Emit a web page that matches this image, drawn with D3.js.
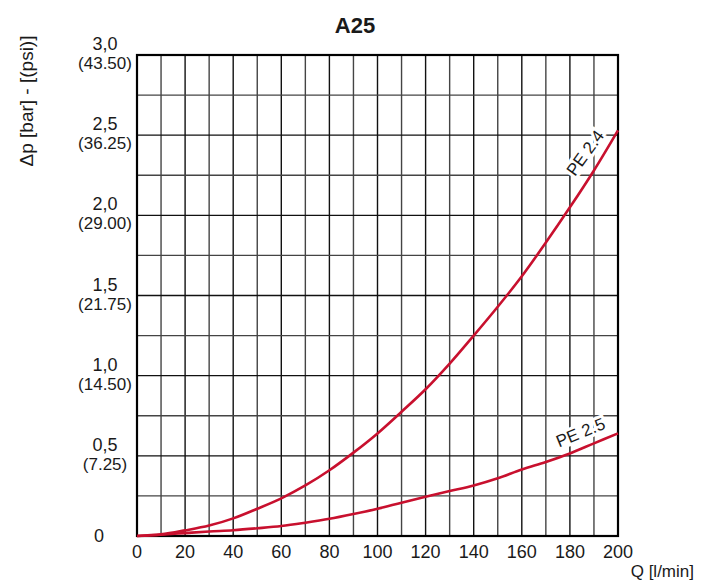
<!DOCTYPE html>
<html>
<head>
<meta charset="utf-8">
<script src="https://cdn.jsdelivr.net/npm/d3@7"></script>
<style>
  body { margin:0; background:#fff; }
  svg text { font-family:"Liberation Sans Narrow","Liberation Sans",Arial,sans-serif; fill:#1a1a1a; }
</style>
</head>
<body>
<div class="canvas"></div>
<script>
// flow in l/min, pressure drop in bar
var flow = [0,10,20,30,40,50,60,70,80,90,100,110,120,130,140,150,160,170,180,190,200];
var pe24 = [0,0.01,0.035,0.065,0.11,0.17,0.235,0.315,0.41,0.52,0.64,0.775,0.915,1.075,1.25,1.43,1.62,1.83,2.05,2.28,2.53];
var pe25 = [0,0.008,0.018,0.028,0.036,0.048,0.062,0.083,0.107,0.137,0.17,0.208,0.245,0.28,0.315,0.36,0.415,0.462,0.515,0.578,0.64];

var xTicks = [0,20,40,60,80,100,120,140,160,180,200];
var yTicks = [0,0.5,1.0,1.5,2.0,2.5,3.0];
var barLabels = ['0','0,5','1,0','1,5','2,0','2,5','3,0'];
var psiLabels = ['','(7.25)','(14.50)','(21.75)','(29.00)','(36.25)','(43.50)'];

var W = 713, H = 583;
var margin = {t:55,r:95,b:47,l:137};
var width = W - margin.l - margin.r,
    height = H - margin.t - margin.b;

var svg = d3.select('.canvas').append('svg')
    .attr('width',W)
    .attr('height',H);

var x = d3.scaleLinear().domain([0,200]).range([0,width]);
var y = d3.scaleLinear().domain([0,3]).range([height,0]);

var plot = svg.append('g')
    .attr('transform','translate('+margin.l+','+margin.t+')');

// grid, every 10 l/min and every 0.25 bar
var gx = d3.range(10,200,10), gy = d3.range(0.25,3,0.25);
plot.selectAll('.vgrid').data(gx).enter().append('line')
    .attr('x1',d=>x(d)).attr('x2',d=>x(d))
    .attr('y1',0).attr('y2',height)
    .style('stroke',d=>d%20==0?'#111':'#444')
    .style('stroke-width',1.4);
plot.selectAll('.hgrid').data(gy).enter().append('line')
    .attr('y1',d=>y(d)).attr('y2',d=>y(d))
    .attr('x1',0).attr('x2',width)
    .style('stroke',d=>(d*2)%1==0?'#111':'#444')
    .style('stroke-width',1.4);

plot.append('rect')
    .attr('width',width).attr('height',height)
    .style('fill','none').style('stroke','#000').style('stroke-width',2.2);

// curves
var line = d3.line().x((d,i)=>x(flow[i])).y(d=>y(d)).curve(d3.curveCatmullRom.alpha(0.5));
[pe24,pe25].forEach(function(s){
    plot.append('path').datum(s)
        .attr('d',line)
        .style('fill','none')
        .style('stroke','#c8102e')
        .style('stroke-width',2.6);
});

// curve labels
function curveLabel(txt,q,v,angle,dx,dy){
    plot.append('text')
        .attr('transform','translate('+(x(q)+dx)+','+(y(v)+dy)+') rotate('+angle+')')
        .attr('text-anchor','middle')
        .style('font-size','17px')
        .style('stroke','#fff').style('stroke-width',6).style('paint-order','stroke')
        .text(txt);
}
curveLabel('PE 2.4',185,2.2,-54,8,-27);
curveLabel('PE 2.5',187,0.55,-22,-4,-10);

// x axis labels
plot.selectAll('.xl').data(xTicks).enter().append('text')
    .attr('x',d=>x(d)).attr('y',height+22)
    .attr('text-anchor','middle')
    .style('font-size','18px')
    .text(d=>d);

// y axis labels
var yl = plot.selectAll('.yl').data(yTicks).enter().append('g')
    .attr('transform',d=>'translate(-32,'+y(d)+')');
yl.append('text')
    .attr('x',(d,i)=>i==0?-6:0)
    .attr('y',(d,i)=>i==0?6:-5)
    .attr('text-anchor','middle')
    .style('font-size','18px')
    .text((d,i)=>barLabels[i]);
yl.append('text')
    .attr('y',14)
    .attr('text-anchor','middle')
    .style('font-size','17px')
    .text((d,i)=>psiLabels[i]);

// titles
svg.append('text')
    .attr('x',355).attr('y',33)
    .attr('text-anchor','middle')
    .style('font-size','22px').style('font-weight','bold')
    .text('A25');

svg.append('text')
    .attr('x',694).attr('y',577)
    .attr('text-anchor','end')
    .style('font-size','17px')
    .text('Q [l/min]');

svg.append('text')
    .attr('transform','translate(33,101) rotate(-90)')
    .attr('text-anchor','middle')
    .style('font-size','19px')
    .text('\u0394p [bar] - [(psi)]');
</script>
</body>
</html>
